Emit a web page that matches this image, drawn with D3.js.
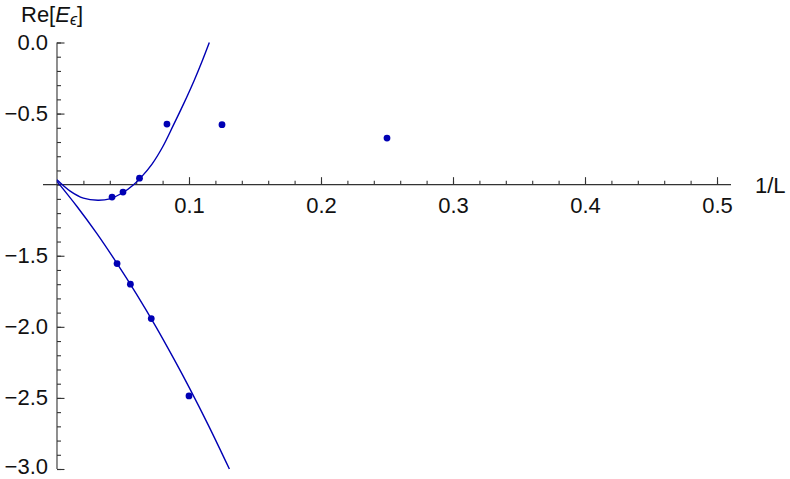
<!DOCTYPE html>
<html>
<head>
<meta charset="utf-8">
<script src="https://cdn.jsdelivr.net/npm/d3@7"></script>
<style>
  html, body { margin: 0; padding: 0; background: #fff; }
  svg { display: block; }
  text { font-family: "Liberation Sans", Arial, sans-serif; }
</style>
</head>
<body>
<svg id="chart" width="790" height="479"></svg>
<script>
// ---- data ----
const upperX  = [0.0417, 0.05, 0.0625, 0.0833, 0.125, 0.25];
const upperRe = [-1.087, -1.052, -0.954, -0.574, -0.578, -0.672];
const lowerX  = [0.0455, 0.0556, 0.0714, 0.1];
const lowerRe = [-1.555, -1.70, -1.942, -2.486];

const upperFitX = [0, 0.01, 0.02, 0.031, 0.04, 0.05, 0.058, 0.064, 0.072, 0.08, 0.088, 0.096, 0.104, 0.110, 0.1154];
const upperFitY = [-0.965, -1.045, -1.095, -1.11, -1.10, -1.055, -1.0, -0.945, -0.855, -0.735, -0.585, -0.43, -0.265, -0.13, 0];
const lowerFitX = [0, 0.015, 0.03, 0.0452, 0.06, 0.075, 0.09, 0.1, 0.115, 0.1306];
const lowerFitY = [-0.977, -1.152, -1.341, -1.55, -1.766, -2.0, -2.25, -2.424, -2.698, -3.0];

const xTickValues = [0.1, 0.2, 0.3, 0.4, 0.5];
const xTickLabels = ["0.1", "0.2", "0.3", "0.4", "0.5"];
const yTickValues = [0, -0.5, -1.5, -2.0, -2.5, -3.0];
const yTickLabels = ["0.0", "\u22120.5", "\u22121.5", "\u22122.0", "\u22122.5", "\u22123.0"];

// ---- layout ----
const svg = d3.select("#chart");
const color = "#0000b4";
const axisColor = "#333";
const fs = 22;

const x = d3.scaleLinear().domain([-0.0106, 0.5106]).range([43, 731]);
const y = d3.scaleLinear().domain([0, -3]).range([42.5, 469]);
const yAxisAt = -1; // x-axis crosses at Re = -1

// x axis: minor ticks
const gx = svg.append("g").attr("transform", `translate(0,${y(yAxisAt)})`);
gx.append("g")
  .call(d3.axisBottom(x).tickValues(x.ticks(25).filter(v => v > 0 && v <= 0.5))
        .tickSizeInner(-4).tickSizeOuter(0).tickFormat(""))
  .call(g => g.select(".domain").remove());
// x axis: major ticks + labels
gx.append("g")
  .call(d3.axisBottom(x).tickValues(xTickValues)
        .tickSizeInner(-7.5).tickSizeOuter(0).tickPadding(12.5)
        .tickFormat((d, i) => xTickLabels[i]))
  .call(g => g.select(".domain").remove());
gx.append("line").attr("x1", x.range()[0]).attr("x2", x.range()[1])
  .attr("y1", 0).attr("y2", 0);

// y axis: minor ticks
const gy = svg.append("g").attr("transform", `translate(${x(0)},0)`);
gy.append("g")
  .call(d3.axisLeft(y).tickValues(y.ticks(30))
        .tickSizeInner(-4).tickSizeOuter(0).tickFormat(""))
  .call(g => g.select(".domain").remove());
gy.append("g")
  .call(d3.axisLeft(y).tickValues(yTickValues)
        .tickSizeInner(-7.5).tickSizeOuter(0).tickPadding(9)
        .tickFormat((d, i) => yTickLabels[i]))
  .call(g => g.select(".domain").remove())
  .call(g => g.selectAll(".tick text").attr("dy", d => d === -3 ? "0.22em" : "0.3em"));
gy.append("line").attr("x1", 0).attr("x2", 0)
  .attr("y1", y.range()[0]).attr("y2", y.range()[1]);

svg.selectAll("g.tick line, g > line").attr("stroke", axisColor).attr("stroke-width", 1.1);
svg.selectAll(".tick text").attr("font-size", fs).attr("fill", "#111")
  .attr("font-family", "'Liberation Sans', Arial, sans-serif");

// axis labels
svg.append("text").attr("x", 755).attr("y", 192.5)
  .attr("font-size", fs).attr("fill", "#111").text("1/L");

const yl = svg.append("text").attr("x", 21).attr("y", 21.5)
  .attr("font-size", 22).attr("fill", "#111");
yl.append("tspan").text("Re[");
yl.append("tspan").attr("font-style", "italic").text("E");
yl.append("tspan").attr("font-style", "italic").attr("font-size", 16).attr("dy", 3).text("\u03f5");
yl.append("tspan").attr("dy", -3).text("]");

// fitted curves
const line = d3.line().x(d => x(d[0])).y(d => y(d[1])).curve(d3.curveCatmullRom);
svg.append("path").datum(d3.zip(upperFitX, upperFitY))
  .attr("d", line).attr("fill", "none").attr("stroke", color).attr("stroke-width", 1.4);
svg.append("path").datum(d3.zip(lowerFitX, lowerFitY))
  .attr("d", line).attr("fill", "none").attr("stroke", color).attr("stroke-width", 1.4);

// data points
svg.append("g").selectAll("circle")
  .data(d3.zip(upperX, upperRe).concat(d3.zip(lowerX, lowerRe)))
  .join("circle")
  .attr("cx", d => x(d[0])).attr("cy", d => y(d[1])).attr("r", 3.4)
  .attr("fill", color);
</script>
</body>
</html>
